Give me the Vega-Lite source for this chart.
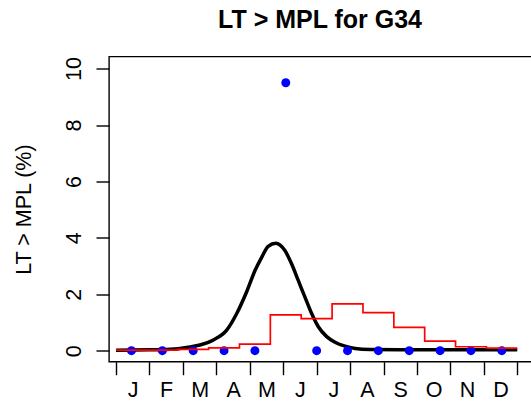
{
  "$schema": "https://vega.github.io/schema/vega-lite/v6.json",
  "width": 425,
  "height": 305.2,
  "autosize": {"type": "none"},
  "padding": {"left": 109, "top": 56.5, "right": 0, "bottom": 43.3},
  "background": "white",
  "title": {
    "text": "LT > MPL for G34",
    "font": "Liberation Sans",
    "fontSize": 25,
    "fontWeight": "bold",
    "color": "black",
    "anchor": "middle",
    "baseline": "alphabetic",
    "offset": 27,
    "dx": -1.5,
    "dy": 23
  },
  "config": {
    "font": "Liberation Sans",
    "view": {"stroke": "black", "strokeWidth": 1.4},
    "axis": {
      "grid": false,
      "domain": false,
      "tickColor": "black",
      "tickWidth": 1.4,
      "labelColor": "black",
      "titleColor": "black",
      "labelFont": "Liberation Sans",
      "titleFont": "Liberation Sans"
    }
  },
  "datasets": {
    "curve": [
      {"month": 0.0, "value": 0.02},
      {"month": 1.02, "value": 0.03},
      {"month": 1.61, "value": 0.05},
      {"month": 1.91, "value": 0.08},
      {"month": 2.21, "value": 0.13},
      {"month": 2.51, "value": 0.2},
      {"month": 2.91, "value": 0.38},
      {"month": 3.31, "value": 0.73},
      {"month": 3.61, "value": 1.32},
      {"month": 3.91, "value": 2.1},
      {"month": 4.16, "value": 2.85},
      {"month": 4.36, "value": 3.32},
      {"month": 4.55, "value": 3.7},
      {"month": 4.78, "value": 3.81},
      {"month": 5.05, "value": 3.55},
      {"month": 5.25, "value": 3.08},
      {"month": 5.45, "value": 2.49},
      {"month": 5.65, "value": 1.9},
      {"month": 5.85, "value": 1.32},
      {"month": 6.05, "value": 0.85},
      {"month": 6.3, "value": 0.5},
      {"month": 6.55, "value": 0.3},
      {"month": 6.85, "value": 0.16},
      {"month": 7.15, "value": 0.08},
      {"month": 7.6, "value": 0.04},
      {"month": 8.49, "value": 0.03},
      {"month": 12.0, "value": 0.03}
    ],
    "step": [
      {"month": 0.0, "value": 0.02},
      {"month": 0.923, "value": 0.02},
      {"month": 1.846, "value": 0.05},
      {"month": 2.769, "value": 0.1},
      {"month": 3.692, "value": 0.23},
      {"month": 4.615, "value": 1.27},
      {"month": 5.538, "value": 1.14},
      {"month": 6.462, "value": 1.66},
      {"month": 7.385, "value": 1.35},
      {"month": 8.308, "value": 0.83},
      {"month": 9.231, "value": 0.34},
      {"month": 10.154, "value": 0.14},
      {"month": 11.077, "value": 0.09},
      {"month": 12.0, "value": 0.09}
    ],
    "pts": [
      {"month": 0.4615, "value": 0},
      {"month": 1.385, "value": 0},
      {"month": 2.308, "value": 0},
      {"month": 3.231, "value": 0},
      {"month": 4.154, "value": 0},
      {"month": 5.077, "value": 9.5},
      {"month": 6.0, "value": 0},
      {"month": 6.923, "value": 0},
      {"month": 7.846, "value": 0},
      {"month": 8.769, "value": 0},
      {"month": 9.692, "value": 0},
      {"month": 10.615, "value": 0},
      {"month": 11.538, "value": 0}
    ]
  },
  "encoding": {
    "x": {
      "field": "month",
      "type": "quantitative",
      "scale": {"domain": [-0.21, 12.5], "nice": false, "zero": false},
      "axis": {
        "orient": "bottom",
        "title": null,
        "values": [0, 0.5, 1, 1.5, 2, 2.5, 3, 3.5, 4, 4.5, 5, 5.5, 6, 6.5, 7, 7.5, 8, 8.5, 9, 9.5, 10, 10.5, 11, 11.5, 12],
        "tickSize": 13,
        "tickOpacity": {"condition": {"test": "datum.value % 1 != 0", "value": 0}, "value": 1},
        "labelExpr": "datum.value % 1 != 0 ? ['J','F','M','A','M','J','J','A','S','O','N','D'][floor(datum.value)] : ''",
        "labelFontSize": 21.5,
        "labelBaseline": "alphabetic",
        "labelAlign": "center",
        "labelPadding": 21.3,
        "labelOverlap": false,
        "labelFlush": false,
        "labelBound": false
      }
    },
    "y": {
      "field": "value",
      "type": "quantitative",
      "scale": {"domain": [-0.39, 10.43], "nice": false, "zero": false},
      "axis": {
        "title": "LT > MPL (%)",
        "values": [0, 2, 4, 6, 8, 10],
        "tickSize": 13,
        "labelAngle": -90,
        "labelAlign": "center",
        "labelBaseline": "alphabetic",
        "labelPadding": 16,
        "labelFontSize": 21.5,
        "labelOverlap": false,
        "labelFlush": false,
        "labelBound": false,
        "titleFontSize": 21.5,
        "titleFontWeight": "normal",
        "titleAngle": -90,
        "titleAlign": "center",
        "titleBaseline": "alphabetic",
        "titleX": -78.5,
        "titleY": 152.6
      }
    }
  },
  "layer": [
    {
      "data": {"name": "curve"},
      "mark": {"type": "line", "interpolate": "monotone", "color": "black", "strokeWidth": 3.5, "clip": true}
    },
    {
      "data": {"name": "pts"},
      "mark": {"type": "point", "filled": true, "color": "blue", "size": 80, "opacity": 1, "clip": true}
    },
    {
      "data": {"name": "step"},
      "mark": {"type": "line", "interpolate": "step-after", "color": "red", "strokeWidth": 1.7, "clip": true}
    }
  ]
}
